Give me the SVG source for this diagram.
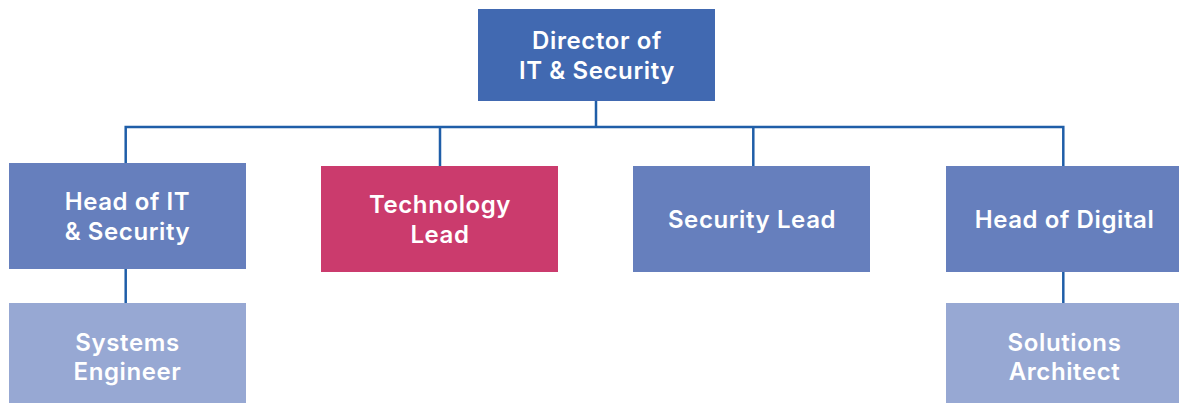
<svg xmlns="http://www.w3.org/2000/svg" width="1179" height="403" viewBox="0 0 1179 403">
  <style>
    .lbl { font-family: Inter, "Noto Sans", "Liberation Sans", sans-serif; font-size: 24px; font-weight: 600; letter-spacing: 0.6px; fill: #ffffff; text-anchor: middle; }
    .top { fill: #4169b1; }
    .mid { fill: #667fbd; }
    .hot { fill: #cb3b6d; }
    .low { fill: #97a8d3; }
    .wire { fill: none; stroke: #1f5ea8; stroke-width: 2.5; }
  </style>
  <rect width="1179" height="403" fill="#ffffff"/>
  <g id="connectors">
    <path class="wire" d="M596 101 V127 M125.7 163 V127 H1063.3 V166 M440 127 V166 M753.3 127 V166"/>
    <path class="wire" d="M125.7 269 V303"/>
    <path class="wire" d="M1063.3 272 V303"/>
  </g>
  <g id="director">
    <rect class="top" x="478" y="9" width="237" height="92"/>
    <text class="lbl" x="597" y="49">Director of</text>
    <text class="lbl" x="597" y="79">IT &amp; Security</text>
  </g>
  <g id="head-it">
    <rect class="mid" x="9" y="163" width="237" height="106"/>
    <text class="lbl" x="127.5" y="210">Head of IT</text>
    <text class="lbl" x="127.5" y="240">&amp; Security</text>
  </g>
  <g id="tech-lead">
    <rect class="hot" x="321" y="166" width="237" height="106"/>
    <text class="lbl" x="440" y="213">Technology</text>
    <text class="lbl" x="440" y="243">Lead</text>
  </g>
  <g id="security-lead">
    <rect class="mid" x="633" y="166" width="237" height="106"/>
    <text class="lbl" x="752" y="228">Security Lead</text>
  </g>
  <g id="head-digital">
    <rect class="mid" x="946" y="166" width="233" height="106"/>
    <text class="lbl" x="1064.5" y="228">Head of Digital</text>
  </g>
  <g id="systems-engineer">
    <rect class="low" x="9" y="303" width="237" height="100"/>
    <text class="lbl" x="127.5" y="351">Systems</text>
    <text class="lbl" x="127.5" y="380">Engineer</text>
  </g>
  <g id="solutions-architect">
    <rect class="low" x="946" y="303" width="233" height="100"/>
    <text class="lbl" x="1064.5" y="351">Solutions</text>
    <text class="lbl" x="1064.5" y="380">Architect</text>
  </g>
</svg>
